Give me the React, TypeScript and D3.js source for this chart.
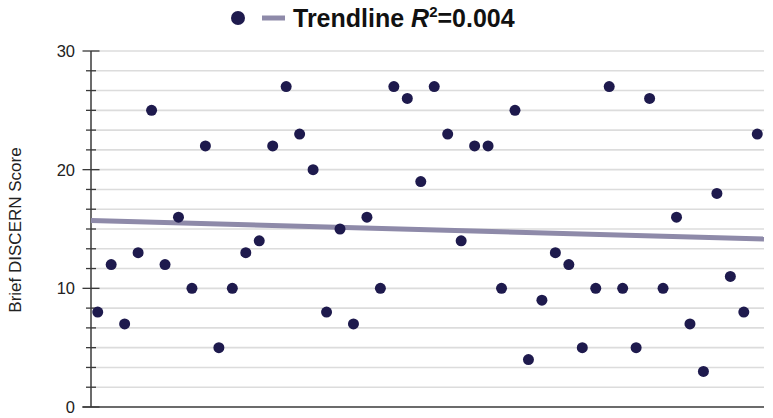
import React from "react";
import * as d3 from "d3";

const xValues: number[] = d3.range(1, 51);
const scores: number[] = [
  8, 12, 7, 13, 25, 12, 16, 10, 22, 5,
  10, 13, 14, 22, 27, 23, 20, 8, 15, 7,
  16, 10, 27, 26, 19, 27, 23, 14, 22, 22,
  10, 25, 4, 9, 13, 12, 5, 10, 27, 10,
  5, 26, 10, 16, 7, 3, 18, 11, 8, 23,
];
const majorTicks: number[] = [0, 10, 20, 30];
const minorTicks: number[] = d3.range(0, 19).map((i) => (i * 10) / 6);
const yLabel = "Brief DISCERN Score";
const r2Label = "0.004";

const W = 773;
const H = 418;
const margin = { left: 91, right: 9, top: 51, bottom: 11 };

export default function App() {
  const x = d3.scaleLinear().domain([0.5, 50.5]).range([margin.left, W - margin.right]);
  const y = d3.scaleLinear().domain([0, 30]).range([H - margin.bottom, margin.top]);

  const mx = d3.mean(xValues)!;
  const my = d3.mean(scores)!;
  let sxy = 0, sxx = 0;
  xValues.forEach((xv, i) => {
    sxy += (xv - mx) * (scores[i] - my);
    sxx += (xv - mx) * (xv - mx);
  });
  const slope = sxy / sxx;
  const icpt = my - slope * mx;
  const line = d3.line<number>().x((d) => x(d)).y((d) => y(icpt + slope * d));
  const [x0, x1] = x.domain();

  const axisColor = "#3a3a3a";
  const gridColor = "#dcdcdc";
  const dotColor = "#1e1a4d";
  const trendColor = "#8e8aa9";
  const font = "'Liberation Sans', Arial, sans-serif";

  return (
    <svg width={W} height={H} style={{ position: "absolute", left: 0, top: 0 }}>
      <rect width={W} height={H} fill="#fff" />
      {minorTicks.filter((t) => t > 0).map((t) => (
        <line key={"g" + t} x1={x(x0)} x2={x(x1)} y1={y(t)} y2={y(t)} stroke={gridColor} strokeWidth={1.6} />
      ))}
      {minorTicks.filter((t) => !majorTicks.some((m) => Math.abs(m - t) < 1e-6)).map((t) => (
        <line key={"m" + t} x1={x(x0) - 5} x2={x(x0) + 5} y1={y(t)} y2={y(t)} stroke={axisColor} strokeWidth={1.3} />
      ))}
      {majorTicks.map((t) => (
        <line key={"M" + t} x1={x(x0) - 8.5} x2={x(x0) + 8.5} y1={y(t)} y2={y(t)} stroke={axisColor} strokeWidth={1.3} />
      ))}
      {majorTicks.map((t) => (
        <text key={"l" + t} x={x(x0) - 16} y={y(t)} dy="0.36em" textAnchor="end" fontFamily={font} fontSize={16.5} fill="#222">
          {t}
        </text>
      ))}
      <line x1={x(x0)} x2={x(x0)} y1={y(30)} y2={y(0)} stroke={axisColor} strokeWidth={1.5} />
      <line x1={x(x0) - 8.5} x2={x(x1)} y1={y(0)} y2={y(0)} stroke={axisColor} strokeWidth={1.5} />
      <path d={line([x0, x1]) || ""} stroke={trendColor} strokeWidth={5} fill="none" />
      {xValues.map((xv, i) => (
        <circle key={i} cx={x(xv)} cy={y(scores[i])} r={5.5} fill={dotColor} />
      ))}
      <text transform={`translate(15,230) rotate(-90)`} textAnchor="middle" dy="0.35em" fontFamily={font} fontSize={17} fill="#222">
        {yLabel}
      </text>
      <circle cx={238} cy={18} r={7} fill={dotColor} />
      <line x1={262} x2={285} y1={18} y2={18} stroke={trendColor} strokeWidth={5} />
      <text x={293} y={18} dy="0.36em" fontFamily={font} fontSize={25} fontWeight="bold" fill="#111">
        Trendline <tspan fontStyle="italic">R</tspan>
        <tspan fontSize={15} dy={-10}>2</tspan>
        <tspan dy={10}>={r2Label}</tspan>
      </text>
    </svg>
  );
}
